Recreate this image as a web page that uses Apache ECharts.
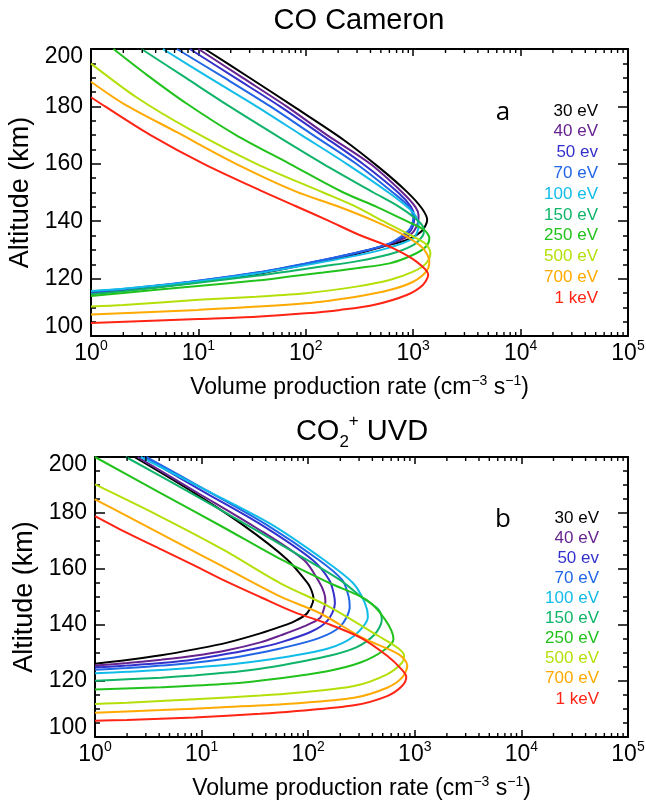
<!DOCTYPE html>
<html>
<head>
<meta charset="utf-8">
<script src="https://cdn.jsdelivr.net/npm/echarts@6/dist/echarts.min.js"></script>
<style>html,body{margin:0;padding:0;background:#fff}#c{width:646px;height:807px}</style>
</head>
<body>
<div id="c"></div>
<script>
// ---------- DATA ----------
const energies = ['30 eV','40 eV','50 ev','70 eV','100 eV','150 eV','250 eV','500 eV','700 eV','1 keV'];
const colors = ['#000000','#66228f','#3330cc','#2166e6','#12bce8','#0fb46a','#22c21c','#b4e00a','#ffaa00','#ff2414'];

const xTickValues = [1,10,100,1000,10000,100000];
const xTickExps = ['0','1','2','3','4','5'];
const decades = [1,10,100,1000,10000];
const minorMultipliers = [2,3,4,5,6,7,8,9];

// Panel a: CO Cameron  [rate (cm^-3 s^-1), altitude (km)]
const co30 = [[1,114.7],[2.0,115.8],[4.07,117],[8.32,118.4],[17,119.9],[34.7,121.6],[70.8,123.8],[145,126.2],[295,128.6],[525,131.2],[871,133.5],[1202,136.6],[1349,140.4],[1202,144.5],[871,150.3],[490,158.5],[224,168.4],[81.3,179.4],[30.2,189.9],[11.5,200]];
const co40 = [[1,115],[2.0,116.1],[8.32,118.7],[34.7,121.9],[100,125.1],[295,128.9],[603,132],[955,135.5],[1096,139],[1122,142],[1047,145],[794,150],[398,160],[158,170],[66.1,180],[25.7,190],[10,200]];
const co50 = [[1,115.2],[2.0,116.2],[8.32,118.8],[34.7,122],[100,125.2],[295,129],[603,132.2],[912,136],[1000,138.5],[1023,141.6],[955,145],[724,150],[339,160],[141,170],[57.5,180],[21.9,190],[8.32,200]];
const co70 = [[1,115.5],[2.0,116.4],[8.32,118.9],[34.7,122.1],[100,125.3],[295,129],[603,132.3],[891,136.5],[977,138.8],[1000,141],[912,145],[646,150],[295,160],[117,170],[46.8,180],[17.4,190],[6.31,200]];
const co100 = [[1,115.7],[2.0,116.5],[8.32,118.7],[34.7,121.8],[100,124.7],[295,128],[603,130.8],[1000,134],[1096,136.5],[1122,138.7],[1000,143],[589,150],[240,160],[91.2,170],[34.7,180],[12.6,190],[4.68,200]];
const co150 = [[1,114.6],[2.0,115.6],[8.32,118.2],[34.7,121],[70.8,122.6],[145,124.3],[295,126],[603,128.5],[1000,131.7],[1230,135],[1259,137],[1122,140],[741,145],[427,150],[145,160],[52.5,170],[19.5,180],[7.59,190],[2.95,200]];
const co250 = [[1,113.9],[2.0,115],[8.32,117.2],[34.7,119.3],[70.8,120.7],[145,122.1],[295,123.6],[603,125.3],[1000,128.3],[1318,131.2],[1413,134.1],[1259,137],[871,140],[457,145],[224,150],[70.8,160],[22.4,170],[7.76,181],[3.31,191],[1.62,200]];
const co500 = [[1,110.3],[2.0,110.8],[10,112.6],[34.7,113.7],[100,114.9],[295,117.2],[603,119.5],[1000,122.4],[1318,125.3],[1445,128.8],[1318,132],[933,135.2],[525,140],[295,145],[145,150],[34.7,160],[8.32,172],[2.69,183],[1,194.9]];
const co700 = [[1,107.5],[10,109.1],[100,111.4],[295,113.7],[603,116],[1000,118.9],[1318,122.4],[1413,125.9],[1230,130.6],[813,135.2],[427,140.2],[195,145.3],[81.3,150.3],[22.4,160],[6.31,171],[2.0,181],[1,188.6]];
const co1k = [[1,104.5],[10,105.9],[34.7,106.7],[100,107.9],[209,109.1],[427,110.8],[871,114.3],[1230,117.8],[1380,121.3],[1072,125.9],[646,130.6],[316,135.2],[162,140.2],[80,145.3],[40,150.3],[11.2,160],[3.55,170.1],[1.35,180],[1,183.2]];

// Panel b: CO2+ UVD
const uvd30 = [[1,126.2],[2.0,127.5],[4.17,129.2],[8.51,131.3],[17.4,133.7],[35.5,137],[55,139.4],[74.1,141.3],[97.7,144.2],[112,149.5],[107,152.5],[97.7,155.2],[63.1,163.5],[25.1,175.4],[8.51,187.2],[2.34,200]];
const uvd40 = [[1,125.5],[2.0,126.4],[4.17,127.6],[8.51,129],[17.4,131],[35.5,133.8],[55,136.3],[91.2,139.5],[129,142.5],[141,146],[145,148.5],[141,151.5],[126,155.5],[91.2,163.2],[31.6,175],[8.91,187.5],[2.51,200]];
const uvd50 = [[1,124.8],[2.0,125.5],[4.17,126.4],[8.51,127.7],[17.4,129.7],[35.5,132],[55,133.8],[105,137.5],[151,141.5],[178,147.7],[174,151],[158,156],[110,163.2],[35.5,176],[10,188],[2.88,200]];
const uvd70 = [[1,124],[2.0,124.6],[4.17,125.5],[8.51,126.5],[17.4,128],[35.5,130.1],[55,131.6],[126,135.3],[200,139.5],[245,146.5],[240,150],[209,156],[126,163.2],[39.8,176],[11.2,188],[3.02,200]];
const uvd100 = [[1,122.8],[2.0,123.3],[4.17,123.9],[8.51,124.8],[17.4,125.8],[35.5,127.2],[55,128.3],[151,131.5],[269,136.1],[363,143],[339,148],[263,155],[141,163.2],[44.7,176],[11.2,188],[2.69,200]];
const uvd150 = [[1,120.1],[2.0,120.6],[4.17,121.2],[8.51,122],[17.4,123],[35.5,124.4],[55,125.5],[158,129],[282,132],[417,136.5],[490,141.8],[457,145.5],[316,150],[200,156],[100,163],[35.5,173],[8.51,186.5],[1.95,200]];
const uvd250 = [[1,117],[4.17,117.8],[17.4,119],[55,121],[151,123.5],[309,126.6],[513,131],[631,135],[525,142],[355,148.9],[158,155],[55,163.5],[15.8,175],[4.17,187],[1,200]];
const uvd500 = [[1,111.8],[2.0,112.2],[8.51,113.5],[35.5,114.8],[74.1,115.7],[269,118.2],[550,122.4],[759,126.5],[794,129],[708,131.5],[468,135.8],[158,146.5],[55,154.9],[15.8,167],[3.98,179],[1,190.2]];
const uvd700 = [[1,108.7],[4.17,109.6],[17.4,110.7],[74.1,112],[269,114],[550,117.6],[759,121.2],[851,125.5],[708,129.5],[331,135.2],[129,144.2],[55,150.1],[15.8,160.9],[6.31,168.9],[2.51,176.9],[1,184.9]];
const uvd1k = [[1,105.8],[2.0,106.1],[8.51,107],[35.5,108.3],[74.1,109.2],[269,111.3],[550,114.6],[759,118.2],[832,121.5],[759,124],[550,129],[309,135.5],[151,140.5],[74.1,144.6],[35.5,150],[17.4,155.4],[8.51,161.3],[4.17,167],[2.0,172.9],[1,178.9]];

const panelA = [co30, co40, co50, co70, co100, co150, co250, co500, co700, co1k];
const panelB = [uvd30, uvd40, uvd50, uvd70, uvd100, uvd150, uvd250, uvd500, uvd700, uvd1k];

// ---------- CHART ----------
const FONT = '"Liberation Sans", Arial, Helvetica, sans-serif';
const chart = echarts.init(document.getElementById('c'), null, {renderer: 'canvas'});

const minorTicks = [];
decades.forEach(d => minorMultipliers.forEach(m => minorTicks.push([d * m, 150])));

function xAxisFor(gridIndex, position, main) {
  const ax = {
    type: 'log', logBase: 10, min: 1, max: 100000, gridIndex: gridIndex, position: position,
    axisLine: {show: true, onZero: false, lineStyle: {color: '#000', width: 2}},
    axisTick: {show: true, inside: true, length: 7, lineStyle: {color: '#000', width: 1.5}},
    minorTick: {show: false},
    splitLine: {show: false},
    axisLabel: {show: false}
  };
  if (main) {
    ax.axisLabel = {
      show: true, margin: 3, color: '#000',
      formatter: function (v) {
        const i = xTickValues.indexOf(Math.round(v));
        return '{n|10}{s|' + (i >= 0 ? xTickExps[i] : '') + '}';
      },
      rich: {
        n: {fontSize: 23, lineHeight: 30, fontFamily: FONT, color: '#000'},
        s: {fontSize: 14, lineHeight: 30, fontFamily: FONT, color: '#000', verticalAlign: 'top'}
      }
    };
    ax.name = 'Volume production rate (cm{s|\u22123} s{s|\u22121})';
    ax.nameLocation = 'middle';
    ax.nameGap = 38;
    ax.nameTextStyle = {
      fontSize: 23, lineHeight: 28, fontFamily: FONT, color: '#000',
      rich: {s: {fontSize: 14, lineHeight: 28, fontFamily: FONT, color: '#000', verticalAlign: 'top'}}
    };
  }
  return ax;
}

function yAxisFor(gridIndex, position, main, nameGap) {
  const ax = {
    type: 'value', min: 100, max: 200, interval: 20, gridIndex: gridIndex, position: position,
    axisLine: {show: true, onZero: false, lineStyle: {color: '#000', width: 2}},
    axisTick: {show: true, inside: true, length: 10, lineStyle: {color: '#000', width: 1.5}},
    minorTick: {show: true, splitNumber: 4, length: 5, lineStyle: {color: '#000', width: 1.5}},
    splitLine: {show: false},
    axisLabel: {show: false}
  };
  if (main) {
    ax.axisLabel = {
      show: true, margin: 8, color: '#000',
      formatter: function (v) {
        if (v === 200) return '{t|200}';
        if (v === 100) return '{b|100}';
        return '{n|' + v + '}';
      },
      rich: {
        n: {fontSize: 23, fontFamily: FONT, color: '#000'},
        t: {fontSize: 23, fontFamily: FONT, color: '#000', padding: [16, 0, 0, 0]},
        b: {fontSize: 23, fontFamily: FONT, color: '#000', padding: [0, 0, 18, 0]}
      }
    };
    ax.name = 'Altitude (km)';
    ax.nameLocation = 'middle';
    ax.nameGap = nameGap;
    ax.nameTextStyle = {fontSize: 27, fontFamily: FONT, color: '#000'};
  }
  return ax;
}

const series = [];
[panelA, panelB].forEach((panel, p) => {
  panel.forEach((data, i) => {
    series.push({
      type: 'line', name: energies[i], xAxisIndex: p * 2, yAxisIndex: p * 2,
      data: data, showSymbol: false, smooth: 0.3, silent: true, clip: true,
      lineStyle: {color: colors[i], width: 2}, z: 3
    });
  });
  series.push({
    type: 'custom', xAxisIndex: p * 2, yAxisIndex: p * 2, data: minorTicks, silent: true, clip: false, z: 5,
    encode: {x: 0, y: 1},
    renderItem: function (params, api) {
      const v = api.value(0);
      const b = api.coord([v, 100]);
      const t = api.coord([v, 200]);
      return {type: 'group', children: [
        {type: 'line', shape: {x1: b[0], y1: b[1], x2: b[0], y2: b[1] - 4}, style: {stroke: '#000', lineWidth: 1.4}},
        {type: 'line', shape: {x1: t[0], y1: t[1], x2: t[0], y2: t[1] + 4}, style: {stroke: '#000', lineWidth: 1.4}}
      ]};
    }
  });
});

const graphics = [];
function txt(x, y, text, size, color, align, family, rich) {
  const st = {text: text, x: x, y: y, fill: color, font: size + 'px ' + (family || FONT),
    textAlign: align, align: align, textVerticalAlign: 'middle', verticalAlign: 'middle'};
  if (rich) st.rich = rich;
  graphics.push({type: 'text', silent: true, z: 10, style: st});
}
// titles
txt(359, 21, 'CO Cameron', 29, '#000', 'center');
txt(362, 432, '{b|CO}{d|2}{u|+}{b| UVD}', 29, '#000', 'center', null, {
  b: {fontSize: 29, lineHeight: 38, fontFamily: FONT, fill: '#000', color: '#000'},
  d: {fontSize: 17, lineHeight: 38, fontFamily: FONT, fill: '#000', color: '#000', verticalAlign: 'bottom'},
  u: {fontSize: 17, lineHeight: 38, fontFamily: FONT, fill: '#000', color: '#000', verticalAlign: 'top'}
});
// panel letters
txt(503, 113, 'a', 26, '#000', 'center', '"Open Sans", sans-serif');
txt(503, 520, 'b', 26, '#000', 'center', '"Open Sans", sans-serif');
// legends
energies.forEach((e, i) => {
  txt(598, 111 + i * 20.8, e, 17, colors[i], 'right');
  txt(599, 518 + i * 20.1, e, 17, colors[i], 'right');
});

chart.setOption({
  animation: false,
  backgroundColor: '#fff',
  grid: [
    {left: 91, top: 49, width: 537, height: 287, containLabel: false, outerBoundsMode: 'none'},
    {left: 95, top: 457, width: 533, height: 280, containLabel: false, outerBoundsMode: 'none'}
  ],
  xAxis: [xAxisFor(0, 'bottom', true), xAxisFor(0, 'top', false), xAxisFor(1, 'bottom', true), xAxisFor(1, 'top', false)],
  yAxis: [yAxisFor(0, 'left', true, 52), yAxisFor(0, 'right', false), yAxisFor(1, 'left', true, 55), yAxisFor(1, 'right', false)],
  series: series,
  graphic: graphics
});
</script>
</body>
</html>
